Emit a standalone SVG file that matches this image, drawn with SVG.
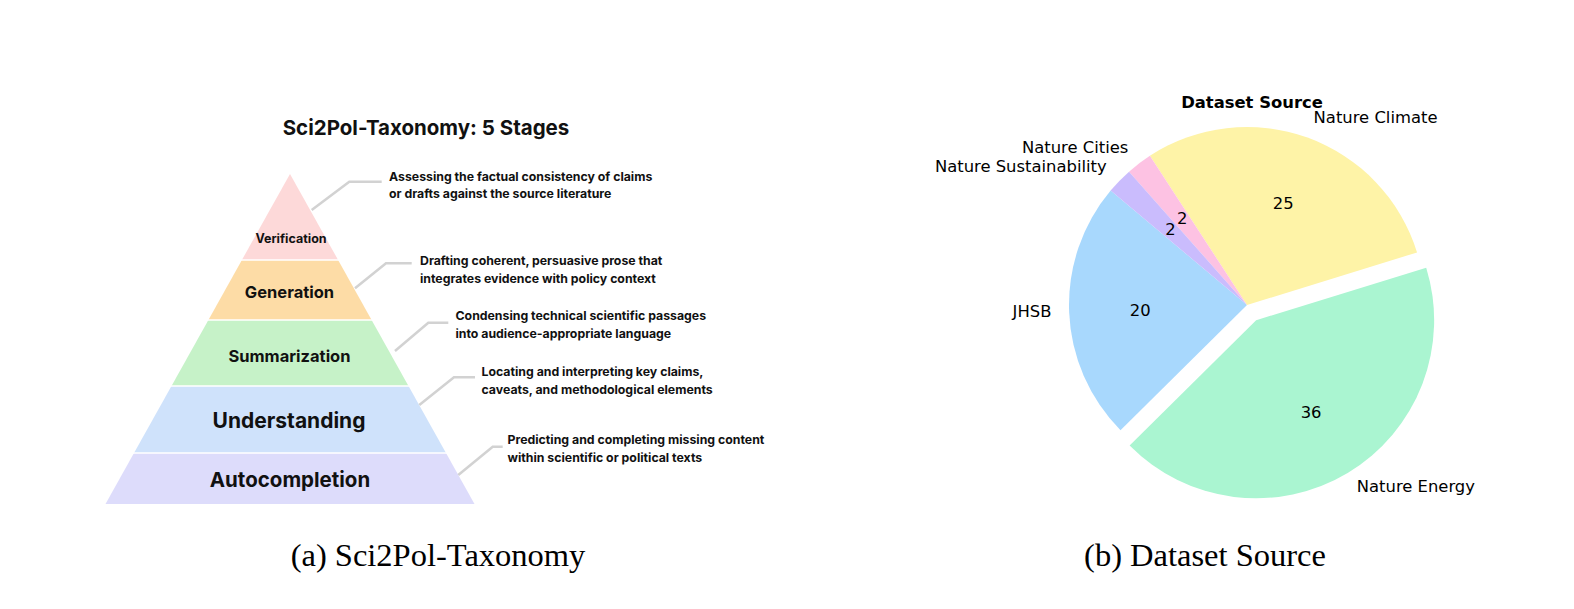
<svg xmlns="http://www.w3.org/2000/svg" width="1574" height="609" viewBox="0 0 1574 609">
<style>
.inter{font-family:Inter,"Liberation Sans",sans-serif;fill:#111}
.stage{font-weight:700;text-anchor:middle}
.desc{font-weight:700;font-size:12.3px}
.dv{font-family:"DejaVu Sans",sans-serif;font-size:16.4px;fill:#000}
.cap{font-family:"Liberation Serif",serif;font-size:32.5px;fill:#000;text-anchor:middle}
.lead{fill:none;stroke:#d2d2d2;stroke-width:2.5;stroke-linejoin:miter}
.sep{stroke:#fff;stroke-width:1.6}
</style>
<rect width="1574" height="609" fill="#fff"/>

<text class="inter" x="426" y="135" font-size="20.5" font-weight="700" text-anchor="middle">Sci2Pol-Taxonomy: 5 Stages</text>

<g id="stage-verification">
<polygon points="290,174 338.1,260 241.9,260" fill="#fdd9d9"/>
<text class="inter stage" x="291" y="242.5" font-size="12.5">Verification</text>
</g>
<g id="stage-generation">
<polygon points="241.9,260 338.1,260 371.6,320 208.4,320" fill="#fddca6"/>
<text class="inter stage" x="289.5" y="297.5" font-size="16.5">Generation</text>
</g>
<g id="stage-summarization">
<polygon points="208.4,320 371.6,320 408.5,386 171.5,386" fill="#c6f2c8"/>
<text class="inter stage" x="289.5" y="361.5" font-size="16.5">Summarization</text>
</g>
<g id="stage-understanding">
<polygon points="171.5,386 408.5,386 446,453 134,453" fill="#cfe2fb"/>
<text class="inter stage" x="289" y="428" font-size="21">Understanding</text>
</g>
<g id="stage-autocompletion">
<polygon points="134,453 446,453 474.5,504 105.5,504" fill="#dddcfb"/>
<text class="inter stage" x="290" y="486.5" font-size="20.5">Autocompletion</text>
</g>
<g id="separators">
<line class="sep" x1="240" y1="260" x2="340" y2="260"/>
<line class="sep" x1="206" y1="320" x2="374" y2="320"/>
<line class="sep" x1="169" y1="386" x2="411" y2="386"/>
<line class="sep" x1="131" y1="453" x2="449" y2="453"/>
</g>

<g id="connectors">
<polyline class="lead" points="311.7,210 349.3,181.7 381.7,181.7"/>
<polyline class="lead" points="355,288.3 386,263.3 411.7,263.3"/>
<polyline class="lead" points="395,351 428.3,322.7 448.3,322.7"/>
<polyline class="lead" points="419.3,405 454,377.3 475,377.3"/>
<polyline class="lead" points="458.3,475 492.7,446.7 502.7,446.7"/>
</g>

<g id="desc-verification" class="inter desc">
<text x="389" y="180.7">Assessing the factual consistency of claims</text>
<text x="389" y="198.3">or drafts against the source literature</text>
</g>
<g id="desc-generation" class="inter desc">
<text x="420" y="265">Drafting coherent, persuasive prose that</text>
<text x="420" y="282.7">integrates evidence with policy context</text>
</g>
<g id="desc-summarization" class="inter desc">
<text x="455.5" y="320">Condensing technical scientific passages</text>
<text x="455.5" y="337.7">into audience-appropriate language</text>
</g>
<g id="desc-understanding" class="inter desc">
<text x="481.5" y="376">Locating and interpreting key claims,</text>
<text x="481.5" y="394">caveats, and methodological elements</text>
</g>
<g id="desc-autocompletion" class="inter desc">
<text x="507.5" y="444">Predicting and completing missing content</text>
<text x="507.5" y="461.7">within scientific or political texts</text>
</g>

<text class="dv" x="1252" y="107.5" font-weight="700" text-anchor="middle">Dataset Source</text>

<g id="wedge-jhsb">
<path d="M1247,305 L1110.64,190.58 A178,178 0 0 0 1120.49,430.22 Z" fill="#a8d8fd"/>
<text class="dv" x="1051.4" y="316.7" text-anchor="end">JHSB</text>
<text class="dv" x="1140.3" y="316" text-anchor="middle">20</text>
</g>
<g id="wedge-energy">
<path d="M1256.15,320.27 L1129.64,445.49 A178,178 0 0 0 1426.21,267.70 Z" fill="#aaf5d1"/>
<text class="dv" x="1356.8" y="492.2">Nature Energy</text>
<text class="dv" x="1311.1" y="417.5" text-anchor="middle">36</text>
</g>
<g id="wedge-climate">
<path d="M1247,305 L1417.06,252.43 A178,178 0 0 0 1149.89,155.82 Z" fill="#fef3a7"/>
<text class="dv" x="1313.6" y="123.3">Nature Climate</text>
<text class="dv" x="1283.3" y="208.5" text-anchor="middle">25</text>
</g>
<g id="wedge-cities">
<path d="M1247,305 L1149.89,155.82 A178,178 0 0 0 1129.05,171.69 Z" fill="#fdc2e3"/>
<text class="dv" x="1128.4" y="153.3" text-anchor="end">Nature Cities</text>
<text class="dv" x="1182.3" y="224.3" text-anchor="middle">2</text>
</g>
<g id="wedge-sustainability">
<path d="M1247,305 L1129.05,171.69 A178,178 0 0 0 1110.64,190.58 Z" fill="#cabcfd"/>
<text class="dv" x="1106.7" y="171.7" text-anchor="end">Nature Sustainability</text>
<text class="dv" x="1170.5" y="235" text-anchor="middle">2</text>
</g>

<text class="cap" x="438" y="566">(a) Sci2Pol-Taxonomy</text>
<text class="cap" x="1205" y="566">(b) Dataset Source</text>
</svg>
